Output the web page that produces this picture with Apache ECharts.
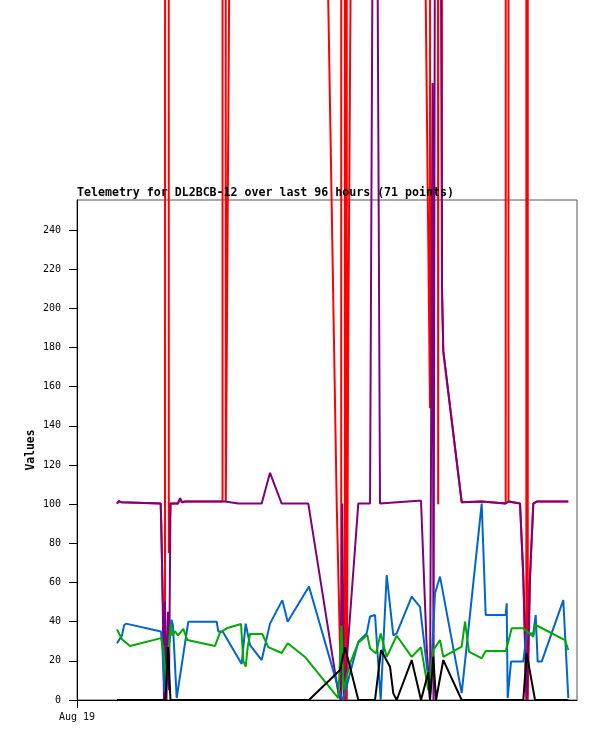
<!DOCTYPE html>
<html>
<head>
<meta charset="utf-8">
<script src="https://cdn.jsdelivr.net/npm/echarts@6.0.0/dist/echarts.min.js"></script>
<style>
  html, body { margin: 0; padding: 0; background: #fff; }
  #telemetry { width: 597px; height: 741px; }
</style>
</head>
<body>
<div id="telemetry"></div>
<script>
// hours since Aug 19 00:00, one array per channel
var redT = [7.68, 8.06, 8.45, 8.64, 16.07, 16.32, 16.90, 17.09, 17.63, 17.95, 19.39, 19.78, 20.16, 20.74,
            27.94, 28.09, 28.57, 34.56, 49.86, 50.73, 50.84, 51.46, 51.61, 51.80, 52.09, 58.10, 67.78,
            68.06, 69.35, 69.47, 70.08, 70.33, 73.86, 77.70, 82.31, 82.46, 82.66, 82.85, 85.06, 85.69,
            86.27, 86.40, 86.55, 86.98, 87.61, 88.26, 94.33];
var redV = [100.3, 101.5, 101, 100.3, 100.3, 70.6, 0, 9000, 75, 100.3, 100.3, 103, 101, 101.3,
            101.3, 9000, 101.3, 2518, 101, 0, 9000, 0, 9000, 0, 187, 2600, 149,
            9000, 100, 9000, 210, 178, 101, 101.3, 100.3, 101, 9000, 101.3, 100.3, 63,
            0, 9000, 0, 63, 100.3, 101.3, 101.3];

var purpleT = [7.68, 8.06, 8.45, 8.64, 16.07, 16.19, 16.32, 16.45, 16.70, 16.90, 17.18, 17.47, 17.66, 17.95,
               19.39, 19.78, 20.16, 20.74, 28.42, 30.97, 35.46, 37.06, 39.30, 44.41, 50.17, 50.65, 50.94,
               51.23, 54.01, 56.26, 57.22, 58.18, 65.53, 66.05, 67.14, 67.78, 68.26, 68.45, 69.12, 70.08,
               70.33, 73.86, 77.70, 82.31, 82.81, 85.06, 85.69, 86.34, 86.98, 87.61, 88.26, 94.33];
var purpleV = [100.3, 101.5, 101, 100.3, 100.3, 90, 70.6, 50, 0, 50, 0, 45, 5, 100.3,
               100.3, 103, 101, 101.3, 101.3, 100.3, 100.3, 116, 100.3, 100.3, 3.5, 0, 100.3,
               0, 100.3, 100.3, 660, 100.3, 101.7, 101.7, 27, 0, 315, 0, 1000, 210,
               178, 101, 101.3, 100.3, 101.3, 100.3, 63, 0, 63, 100.3, 101.3, 101.3];

var blueT = [7.68, 8.64, 9.02, 9.41, 16.13, 16.42, 16.80, 18.14, 18.43, 19.14, 21.37, 26.82, 27.13, 27.97,
             31.62, 32.39, 33.22, 35.46, 37.06, 39.42, 40.45, 44.54, 50.50, 51.07, 54.01, 55.62, 56.26,
             57.22, 58.31, 59.46, 60.73, 61.38, 64.26, 65.86, 67.78, 68.74, 69.70, 73.86, 77.70, 78.47,
             82.31, 82.50, 82.69, 83.33, 85.69, 86.34, 87.61, 88.07, 88.45, 89.22, 93.37, 94.33];
var blueV = [29, 33, 38, 39, 35, 25, 4, 41, 38, 1, 40, 40, 35, 35,
             18.4, 39, 28, 20.4, 39, 51, 40, 58, 3, 0, 29.8, 34, 42.6,
             43.4, 0, 63.8, 33, 34, 52.8, 47.6, 3, 54.5, 63, 3.5, 100.3, 43.4,
             43.4, 49.4, 1, 19.6, 19.6, 34, 34, 43.4, 19.6, 19.6, 51, 1];

var greenT = [7.68, 8.64, 9.02, 10.18, 16.13, 16.57, 17.09, 17.99, 18.24, 18.82, 19.39, 20.41, 21.18, 26.50,
              27.46, 28.74, 31.49, 31.93, 32.39, 32.77, 33.22, 35.58, 36.73, 39.30, 40.45, 43.78, 46.33,
              50.17, 50.40, 50.78, 51.17, 52.42, 54.01, 55.74, 56.26, 57.41, 58.31, 59.46, 61.38, 64.26,
              66.05, 67.45, 68.41, 69.70, 70.33, 73.86, 74.50, 75.26, 77.70, 78.47, 82.31, 82.81, 83.46,
              85.69, 87.61, 88.07, 93.70, 94.33];
var greenV = [36, 31, 32, 27.6, 31.6, 27, 10, 39, 33, 35, 33, 36.3, 30.6, 27.6,
              34.4, 36.6, 38.8, 20, 17, 27, 33.7, 33.7, 27, 24, 29, 22, 13.6,
              1, 0, 38, 5, 18.7, 29.3, 33.2, 26.4, 23.8, 34, 22, 32.8, 22,
              26.9, 5, 25.5, 30.6, 22, 27.2, 40, 24.7, 21.3, 25, 25, 29.8, 36.6,
              36.6, 32.3, 38.3, 30.6, 25.5];

var blackT = [7.68, 16.99, 17.47, 17.95, 44.54, 50.50, 51.46, 54.01, 57.22, 58.37, 60.10, 60.73, 61.38,
              64.26, 66.05, 67.45, 67.78, 68.41, 68.93, 70.33, 73.86, 85.69, 86.34, 87.94, 94.33];
var blackV = [0, 0, 27, 0, 0, 15.3, 27, 0, 0, 25.5, 17, 3.4, 0,
              20.4, 0, 14, 0, 22, 0, 20.4, 0, 0, 23.8, 0, 0];

var yTicks = [0, 20, 40, 60, 80, 100, 120, 140, 160, 180, 200, 220, 240];
var xTicks = [0];
var xTickLabels = ['Aug 19'];

var mono = 'DejaVu Sans Mono';

function pairs(t, v) {
    return t.map(function (x, i) { return [x, v[i]]; });
}

function channel(name, color, t, v) {
    return {
        name: name,
        type: 'line',
        data: pairs(t, v),
        showSymbol: false,
        symbol: 'none',
        clip: false,
        lineStyle: { color: color, width: 2 },
        itemStyle: { color: color },
        emphasis: { disabled: true }
    };
}

var myChart = echarts.init(document.getElementById('telemetry'));

var option = {
    animation: false,
    backgroundColor: '#ffffff',
    title: {
        text: 'Telemetry for DL2BCB-12 over last 96 hours (71 points)',
        left: 77,
        top: 187,
        padding: 0,
        textStyle: { fontFamily: mono, fontWeight: 'bold', fontSize: 11.6, color: '#000' }
    },
    grid: {
        left: 77,
        top: 200,
        right: 20,
        bottom: 41,
        show: true,
        borderColor: '#555',
        borderWidth: 1,
        backgroundColor: 'transparent'
    },
    xAxis: {
        type: 'value',
        min: 0,
        max: 96,
        axisLine: { lineStyle: { color: '#000', width: 1 } },
        axisTick: { length: 8, customValues: xTicks, lineStyle: { color: '#000' } },
        axisLabel: {
            customValues: xTicks,
            margin: 12,
            fontFamily: mono,
            fontSize: 10,
            color: '#000',
            formatter: function (v) { return xTickLabels[xTicks.indexOf(v)] || ''; }
        },
        splitLine: { show: false }
    },
    yAxis: {
        type: 'value',
        min: 0,
        max: 255.3,
        name: 'Values',
        nameLocation: 'middle',
        nameRotate: 90,
        nameGap: 40,
        nameMoveOverlap: false,
        nameTextStyle: { fontFamily: mono, fontWeight: 'bold', fontSize: 11.4, color: '#000' },
        axisLine: { show: true, lineStyle: { color: '#000', width: 1 } },
        axisTick: { show: true, length: 8, customValues: yTicks, lineStyle: { color: '#000' } },
        axisLabel: { customValues: yTicks, margin: 16, fontFamily: mono, fontSize: 10, color: '#000' },
        splitLine: { show: false }
    },
    series: [
        channel('red', '#ff0000', redT, redV),
        channel('purple', '#7f007f', purpleT, purpleV),
        channel('blue', '#0066cc', blueT, blueV),
        channel('green', '#00aa00', greenT, greenV),
        channel('black', '#000000', blackT, blackV)
    ]
};

myChart.setOption(option);
</script>
</body>
</html>
